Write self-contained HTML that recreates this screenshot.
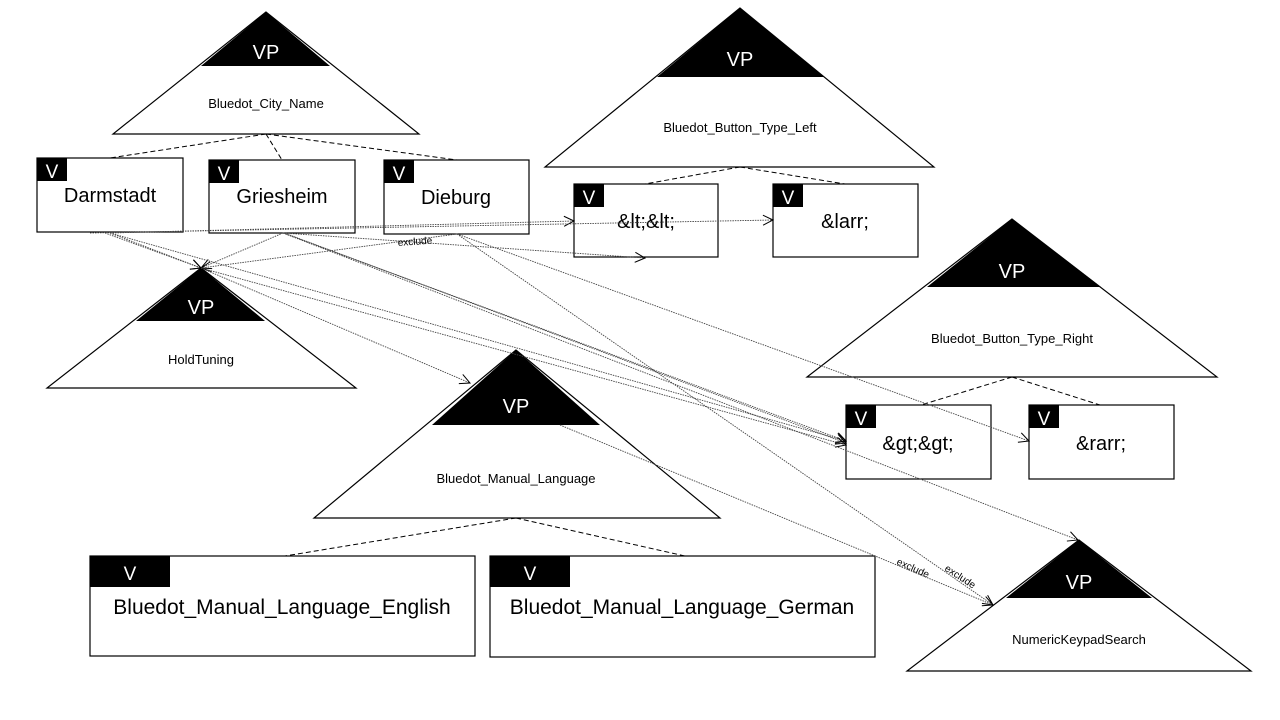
<!DOCTYPE html>
<html><head><meta charset="utf-8"><style>
html,body{margin:0;padding:0;background:#fff;width:1280px;height:720px;overflow:hidden}
svg{display:block}
text{font-family:"Liberation Sans",sans-serif;fill:#000}
</style></head><body>
<svg width="1280" height="720" viewBox="0 0 1280 720" xmlns="http://www.w3.org/2000/svg">
<defs>
<marker id="a" markerWidth="12" markerHeight="12" refX="11" refY="6" orient="auto" markerUnits="userSpaceOnUse">
<path d="M1,1 L11,6 L1,11" fill="none" stroke="#000" stroke-width="1"/></marker>
</defs>
<!-- triangles -->
<g stroke="#000" stroke-width="1.2" fill="#fff">
<polygon points="266,12 113,134 419,134"/>
<polygon points="740,8 545,167 934,167"/>
<polygon points="201,268 47,388 356,388"/>
<polygon points="1012,219 807,377 1217,377"/>
<polygon points="516,350 314,518 720,518"/>
<polygon points="1079,540 907,671 1251,671"/>
</g>
<g fill="#000">
<polygon points="266,12 201,66 330,66"/>
<polygon points="740,8 657,77 824,77"/>
<polygon points="201,268 136,321 265,321"/>
<polygon points="1012,219 927,287 1101,287"/>
<polygon points="516,350 432,425 600,425"/>
<polygon points="1079,540 1006,598 1152,598"/>
</g>
<g font-size="20" text-anchor="middle" style="fill:#fff">
<text x="266" y="59" style="fill:#fff">VP</text>
<text x="740" y="66" style="fill:#fff">VP</text>
<text x="201" y="314" style="fill:#fff">VP</text>
<text x="1012" y="278" style="fill:#fff">VP</text>
<text x="516" y="413" style="fill:#fff">VP</text>
<text x="1079" y="589" style="fill:#fff">VP</text>
</g>
<g font-size="13" text-anchor="middle">
<text x="266" y="108">Bluedot_City_Name</text>
<text x="740" y="132">Bluedot_Button_Type_Left</text>
<text x="201" y="364">HoldTuning</text>
<text x="1012" y="343">Bluedot_Button_Type_Right</text>
<text x="516" y="483">Bluedot_Manual_Language</text>
<text x="1079" y="644">NumericKeypadSearch</text>
</g>
<!-- dashed parent links -->
<g stroke="#000" stroke-width="1" stroke-dasharray="5,3" fill="none">
<line x1="266" y1="134" x2="110" y2="158"/>
<line x1="266" y1="134" x2="282" y2="160"/>
<line x1="266" y1="134" x2="457" y2="160"/>
<line x1="740" y1="167" x2="645" y2="184"/>
<line x1="740" y1="167" x2="845" y2="184"/>
<line x1="1012" y1="377" x2="921" y2="405"/>
<line x1="1012" y1="377" x2="1100" y2="405"/>
<line x1="516" y1="518" x2="285" y2="556"/>
<line x1="516" y1="518" x2="685" y2="556"/>
</g>
<!-- boxes -->
<g stroke="#000" stroke-width="1.2" fill="#fff">
<rect x="37" y="158" width="146" height="74"/>
<rect x="209" y="160" width="146" height="73"/>
<rect x="384" y="160" width="145" height="74"/>
<rect x="574" y="184" width="144" height="73"/>
<rect x="773" y="184" width="145" height="73"/>
<rect x="846" y="405" width="145" height="74"/>
<rect x="1029" y="405" width="145" height="74"/>
<rect x="90" y="556" width="385" height="100"/>
<rect x="490" y="556" width="385" height="101"/>
</g>
<g fill="#000">
<rect x="37" y="158" width="30" height="23"/>
<rect x="209" y="160" width="30" height="23"/>
<rect x="384" y="160" width="30" height="23"/>
<rect x="574" y="184" width="30" height="23"/>
<rect x="773" y="184" width="30" height="23"/>
<rect x="846" y="405" width="30" height="23"/>
<rect x="1029" y="405" width="30" height="23"/>
<rect x="90" y="556" width="80" height="31"/>
<rect x="490" y="556" width="80" height="31"/>
</g>
<g font-size="19" text-anchor="middle">
<text x="52" y="178" style="fill:#fff">V</text>
<text x="224" y="180" style="fill:#fff">V</text>
<text x="399" y="180" style="fill:#fff">V</text>
<text x="589" y="204" style="fill:#fff">V</text>
<text x="788" y="204" style="fill:#fff">V</text>
<text x="861" y="425" style="fill:#fff">V</text>
<text x="1044" y="425" style="fill:#fff">V</text>
<text x="130" y="580" style="fill:#fff">V</text>
<text x="530" y="580" style="fill:#fff">V</text>
</g>
<g font-size="20" text-anchor="middle">
<text x="110" y="202">Darmstadt</text>
<text x="282" y="203">Griesheim</text>
<text x="456" y="204">Dieburg</text>
<text x="646" y="228">&amp;lt;&amp;lt;</text>
<text x="845" y="228">&amp;larr;</text>
<text x="918" y="450">&amp;gt;&amp;gt;</text>
<text x="1101" y="450">&amp;rarr;</text>
<text x="282" y="614" font-size="21">Bluedot_Manual_Language_English</text>
<text x="682" y="614" font-size="21">Bluedot_Manual_Language_German</text>
</g>
<!-- dotted dependency arrows -->
<g stroke="#444" stroke-width="0.9" stroke-dasharray="1.5,1" fill="none" marker-end="url(#a)">
<line x1="110" y1="233" x2="201" y2="268"/>
<line x1="105" y1="233" x2="201" y2="268"/>
<line x1="283" y1="233" x2="201" y2="268"/>
<line x1="457" y1="234" x2="201" y2="268"/>
<line x1="110" y1="233" x2="574" y2="221"/>
<line x1="90" y1="233" x2="773" y2="220"/>
<line x1="283" y1="233" x2="645" y2="258"/>
<line x1="110" y1="233" x2="846" y2="441"/>
<line x1="283" y1="233" x2="846" y2="441"/>
<line x1="287" y1="234" x2="846" y2="443"/>
<line x1="201" y1="268" x2="846" y2="445"/>
<line x1="457" y1="234" x2="1029" y2="441"/>
<line x1="283" y1="233" x2="1078" y2="540"/>
<line x1="457" y1="234" x2="993" y2="605"/>
<line x1="560" y1="425" x2="993" y2="605"/>
<line x1="201" y1="268" x2="470" y2="383"/>
</g>
<g font-size="10">
<text x="398" y="246" transform="rotate(-4 398 246)">exclude</text>
<text x="896" y="564" transform="rotate(24 896 564)">exclude</text>
<text x="944" y="570" transform="rotate(33 944 570)">exclude</text>
</g>
</svg>
</body></html>
